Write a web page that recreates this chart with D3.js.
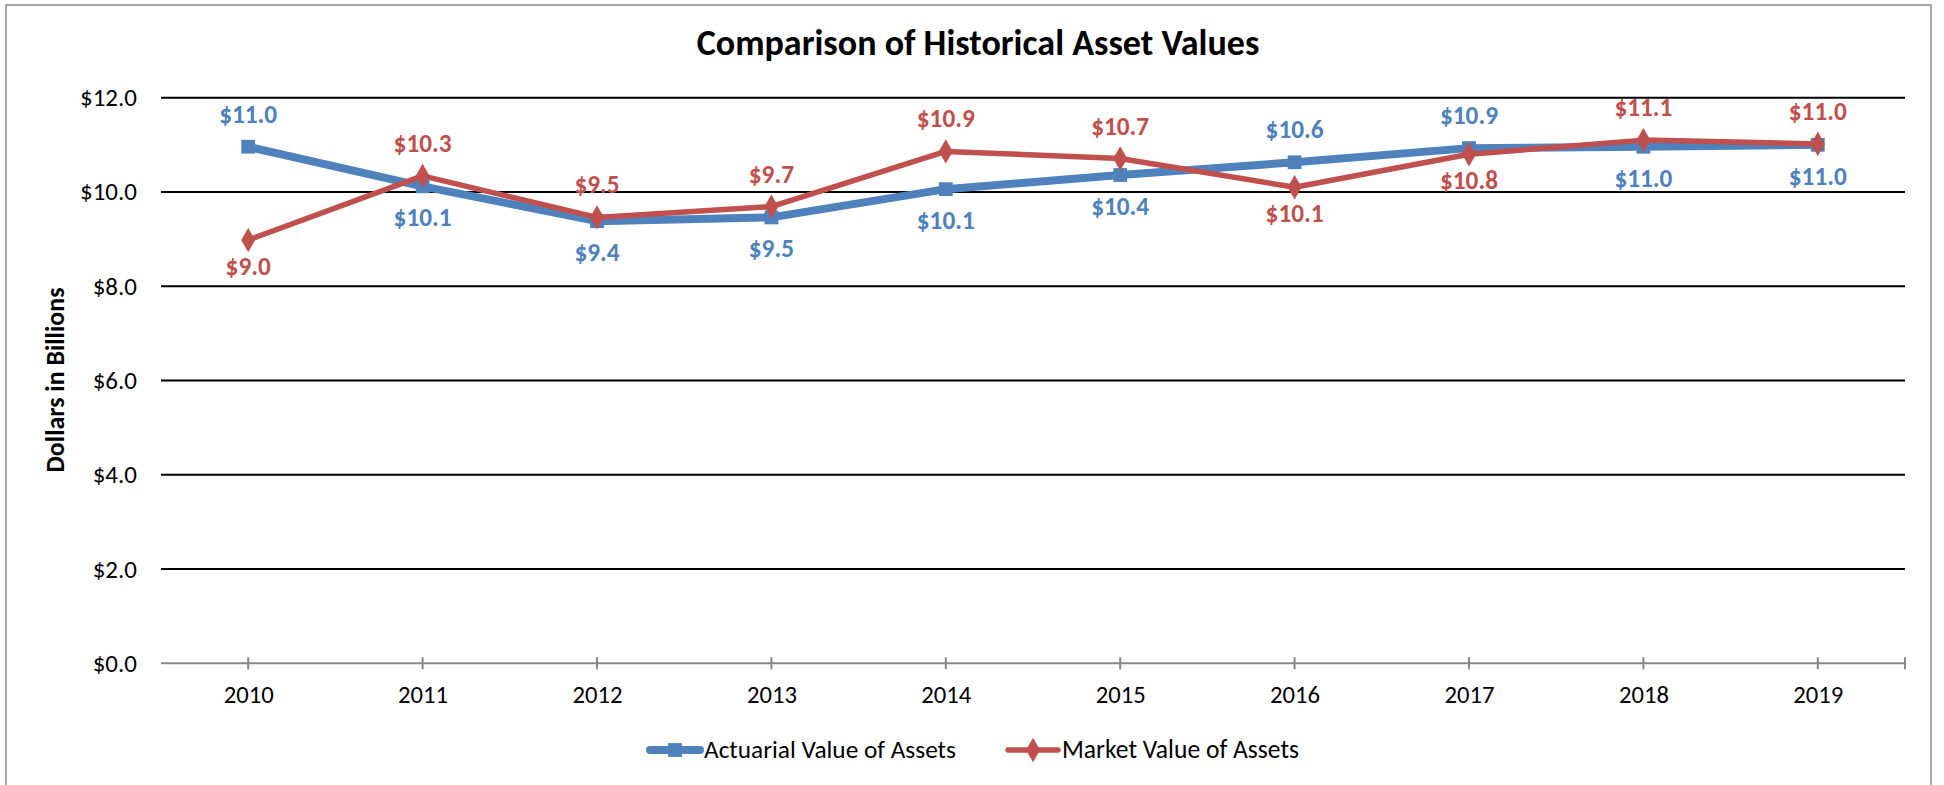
<!DOCTYPE html>
<html>
<head>
<meta charset="utf-8">
<script src="https://cdn.jsdelivr.net/npm/d3@7"></script>
<style>
  body { margin: 0; background: #fff; }
  svg text { font-family: Carlito, Calibri, Lato, sans-serif; }
</style>
</head>
<body>
<div id="chart"></div>
<script>
'use strict'

// data
const years = ['2010', '2011', '2012', '2013', '2014', '2015', '2016', '2017', '2018', '2019']
const actuarial = [10.96, 10.12, 9.38, 9.46, 10.06, 10.36, 10.63, 10.93, 10.96, 11.0]
const market = [8.98, 10.34, 9.46, 9.69, 10.86, 10.71, 10.1, 10.8, 11.1, 11.02]
const actuarialLabelPos = ['up', 'down', 'down', 'down', 'down', 'down', 'up', 'up', 'down', 'down']
const marketLabelPos = ['down', 'up', 'up', 'up', 'up', 'up', 'down', 'down', 'up', 'up']
const yTicks = [0, 2, 4, 6, 8, 10, 12]

const width = 1944
const height = 785
const plot = { left: 161, right: 1905, top: 97.7, bottom: 663.3 }
const fontFamily = 'Carlito, Calibri, Lato, sans-serif'

const svg = d3.select('#chart')
  .append('svg')
  .attr('width', width)
  .attr('height', height)

// font size that makes a text span the width seen in the reference
function fittedSize (node, size, target) {
  const len = node.getComputedTextLength()
  return len > 0 ? +(size * target / len).toFixed(2) : size
}
function fitWidth (sel, target) {
  const size = parseFloat(sel.attr('font-size'))
  sel.attr('font-size', fittedSize(sel.node(), size, target))
  return sel
}

// outer chart border
svg.append('rect')
  .attr('x', 6)
  .attr('y', 5)
  .attr('width', 1925)
  .attr('height', 800)
  .attr('fill', 'none')
  .attr('stroke', '#8c8c8c')
  .attr('stroke-width', 1.5)

const x = d3.scalePoint()
  .domain(years)
  .range([plot.left, plot.right])
  .padding(0.5)

const y = d3.scaleLinear()
  .domain([0, 12])
  .range([plot.bottom, plot.top])

const money = d => '$' + d3.format('.1f')(d)

// gridlines
svg.append('g')
  .selectAll('line')
  .data(yTicks.filter(d => d > 0))
  .enter()
  .append('line')
  .attr('x1', plot.left)
  .attr('x2', plot.right)
  .attr('y1', d => y(d))
  .attr('y2', d => y(d))
  .attr('stroke', '#000')
  .attr('stroke-width', 2)

// y axis labels
const yAxis = svg.append('g')
  .attr('transform', `translate(${plot.left},0)`)
  .call(d3.axisLeft(y).tickValues(yTicks).tickSize(0).tickPadding(24).tickFormat(money))
yAxis.select('.domain').remove()
const yLabels = yAxis.selectAll('text')
  .attr('font-size', 23)
  .attr('fill', '#000')
  .style('font-family', fontFamily)
yLabels.attr('font-size', fittedSize(yLabels.filter(d => d === 12).node(), 23, 57))

// x axis
const xAxis = svg.append('g')
  .attr('transform', `translate(0,${plot.bottom})`)
  .call(d3.axisBottom(x).tickSize(0).tickPadding(22))
xAxis.select('.domain')
  .attr('d', `M${plot.left},0H${plot.right}`)
  .attr('stroke', '#888')
  .attr('stroke-width', 2)
const xLabels = xAxis.selectAll('text')
  .attr('font-size', 23)
  .attr('fill', '#000')
  .style('font-family', fontFamily)
xLabels.attr('font-size', fittedSize(xLabels.node(), 23, 50))
xAxis.selectAll('.tick line').remove()
// small crossing ticks at each category and at the right end
xAxis.selectAll('line.cross')
  .data(years.map(d => x(d)).concat([plot.right]))
  .enter()
  .append('line')
  .attr('class', 'cross')
  .attr('x1', d => d)
  .attr('x2', d => d)
  .attr('y1', -6)
  .attr('y2', 6)
  .attr('stroke', '#888')
  .attr('stroke-width', 2)

// title
const title = svg.append('text')
  .attr('x', 978)
  .attr('y', 55)
  .attr('text-anchor', 'middle')
  .attr('font-size', 35)
  .attr('font-weight', 'bold')
  .text('Comparison of Historical Asset Values')
fitWidth(title, 563)

// y axis title
const yTitle = svg.append('text')
  .attr('transform', 'translate(64,380) rotate(-90)')
  .attr('text-anchor', 'middle')
  .attr('font-size', 25)
  .attr('font-weight', 'bold')
  .text('Dollars in Billions')
fitWidth(yTitle, 185)

const series = [
  { name: 'Actuarial Value of Assets', values: actuarial, pos: actuarialLabelPos, color: '#4f81bd', width: 8, marker: 'square', up: -24, down: 40 },
  { name: 'Market Value of Assets', values: market, pos: marketLabelPos, color: '#c0504d', width: 5.5, marker: 'diamond', up: -24, down: 35 }
]

const line = d3.line()
  .x((d, i) => x(years[i]))
  .y(d => y(d))

const markerPath = type => {
  const sym = type === 'square' ? d3.symbolSquare : d3.symbolDiamond
  return d3.symbol().type(sym).size(type === 'square' ? 190 : 170)()
}

series.forEach(s => {
  const g = svg.append('g')
  g.append('path')
    .datum(s.values)
    .attr('d', line)
    .attr('fill', 'none')
    .attr('stroke', s.color)
    .attr('stroke-width', s.width)
    .attr('stroke-linejoin', 'round')
  g.selectAll('path.marker')
    .data(s.values)
    .enter()
    .append('path')
    .attr('class', 'marker')
    .attr('d', markerPath(s.marker))
    .attr('transform', (d, i) => `translate(${x(years[i])},${y(d)})`)
    .attr('fill', s.color)
})

// data labels, drawn after lines so they sit on top
const dataLabels = []
series.forEach(s => {
  const t = svg.append('g')
    .selectAll('text')
    .data(s.values)
    .enter()
    .append('text')
    .attr('x', (d, i) => x(years[i]))
    .attr('y', (d, i) => y(d) + (s.pos[i] === 'up' ? s.up : s.down))
    .attr('text-anchor', 'middle')
    .attr('font-size', 23)
    .attr('font-weight', 'bold')
    .attr('fill', s.color)
    .text(money)
  dataLabels.push(t)
})
// "$11.0" above 2010 is about 58px wide in the reference
const labelSize = fittedSize(dataLabels[0].node(), 23, 58)
dataLabels.forEach(t => t.attr('font-size', labelSize))

// legend
const legendItems = [
  { x: 646, textX: 704, textWidth: 252 },
  { x: 1004, textX: 1062, textWidth: 237 }
]
const legendY = 750
series.forEach((s, i) => {
  const item = legendItems[i]
  const g = svg.append('g')
  g.append('line')
    .attr('x1', item.x + 4)
    .attr('x2', item.textX - 4)
    .attr('y1', legendY)
    .attr('y2', legendY)
    .attr('stroke', s.color)
    .attr('stroke-width', s.width)
    .attr('stroke-linecap', 'round')
  g.append('path')
    .attr('d', markerPath(s.marker))
    .attr('transform', `translate(${(item.x + item.textX) / 2},${legendY})`)
    .attr('fill', s.color)
  const label = g.append('text')
    .attr('x', item.textX)
    .attr('y', legendY + 8)
    .attr('font-size', 24)
    .attr('fill', '#000')
    .text(s.name)
  fitWidth(label, item.textWidth)
})
</script>
</body>
</html>
